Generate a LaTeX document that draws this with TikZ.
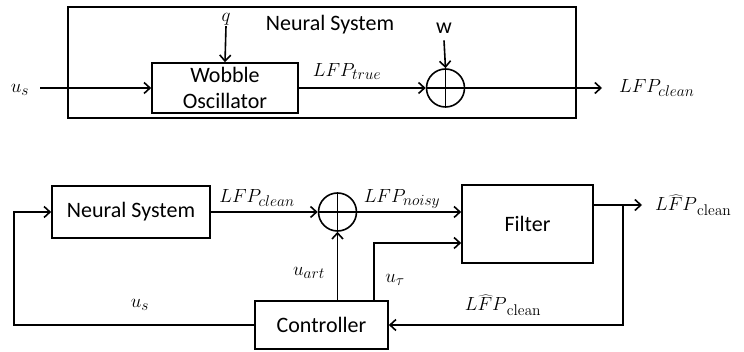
\RequirePackage{fix-cm}
\documentclass[tikz,border=0pt]{standalone}
\usepackage[no-math]{fontspec}
\setmainfont{Carlito}
\DeclareMathSizes{19}{19}{15.5}{12}
\usetikzlibrary{positioning,arrows.meta,calc}

\begin{document}
\begin{tikzpicture}[x=1pt, y=-1pt,
  txt/.style={inner sep=1pt, align=center, font=\fontsize{22}{26}\selectfont},
  blk/.style={txt, draw, line width=1.6pt},
  lbl/.style={inner sep=1pt, font=\fontsize{19}{22}\selectfont},
  sumj/.style={draw, circle, line width=1.6pt, minimum size=38pt, inner sep=0pt,
               path picture={\draw[line width=1.6pt]
                 (path picture bounding box.north) -- (path picture bounding box.south)
                 (path picture bounding box.west) -- (path picture bounding box.east);}},
  arr/.style={-{Straight Barb[length=6pt,width=11pt]}, line width=1.6pt},
]
  \useasboundingbox (0,0) rectangle (744,352);

  % top: inside the neural system
  \node[blk, minimum width=508pt, minimum height=111pt] (nsys) at (322,62.5) {};
  \node[txt] (nsysl) at (330,25) {Neural System};
  \node[blk, minimum width=146pt, minimum height=50pt] (wob) at (225,88) {Wobble\\Oscillator};
  \node[sumj] (sum1) at (445.5,88) {};
  \node[lbl] (usl) at (20,90) {$u_s$};
  \coordinate (usin) at (40,88);
  \node[lbl] (q) at (226,19) {$q$};
  \node[txt] (w) at (444,28) {w};
  \coordinate (o1) at (602,88);
  \node[lbl, right=16pt of o1] (lfpc1) {$LFP_{clean}$};
  \node[lbl] (lfpt) at (347,72) {$LFP_{true}$};

  \draw[arr] (usin) -- (wob);
  \draw[arr] (q.south) -- (wob.north);
  \draw[arr] ([yshift=-6pt]w.south) -- (sum1.north);
  \draw[arr] (wob) -- (sum1);
  \draw[arr] (sum1) -- (o1);

  % bottom: closed loop
  \node[blk, minimum width=158pt, minimum height=52pt] (ns2) at (131,212) {Neural System};
  \node[sumj] (sum2) at (337.5,212) {};
  \node[blk, minimum width=131pt, minimum height=78pt] (filt) at (527.5,224) {Filter};
  \node[blk, minimum width=133pt, minimum height=48pt] (ctrl) at (321.5,325) {Controller};
  \coordinate (o2) at (642,205);
  \coordinate (br) at (623,205);
  \node[lbl, right=12pt of o2] (lfph1) {$\widehat{LFP}_{\mathrm{clean}}$};
  \node[lbl] (lfpc2) at (257,198) {$LFP_{clean}$};
  \node[lbl] (lfpn) at (402,199) {$LFP_{noisy}$};
  \node[lbl] (uart) at (309,273) {$u_{art}$};
  \node[lbl] (utau) at (395,280) {$u_{\tau}$};
  \node[lbl] (lfph2) at (503,305) {$\widehat{LFP}_{\mathrm{clean}}$};
  \node[lbl] (us2) at (140,305) {$u_s$};

  \draw[arr] (ns2) -- (sum2);
  \draw[arr] (sum2) -- (sum2 -| filt.west);
  \draw[arr] (ctrl.north -| sum2) -- (sum2.south);
  \draw[arr] ([xshift=-15pt]ctrl.north east) |- ([yshift=-19pt]filt.west);
  \draw[arr] ([yshift=19pt]filt.east) -- (o2);
  \draw[arr] (br) |- (ctrl.east);
  \draw[arr] (ctrl.west) -- ++(-240,0) |- (ns2.west);
\end{tikzpicture}
\end{document}
